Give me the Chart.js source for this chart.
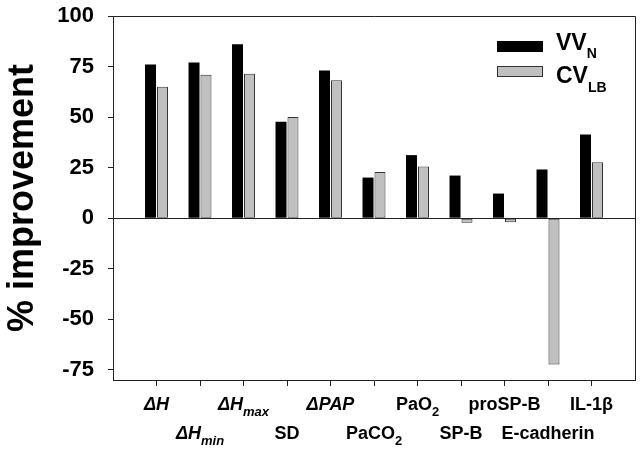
<!DOCTYPE html>
<html>
<head>
<meta charset="utf-8">
<script src="https://cdn.jsdelivr.net/npm/chart.js@4.4.0/dist/chart.umd.min.js"></script>
<style>
  body { margin: 0; background: #fff; }
  #wrap { width: 642px; height: 456px; }
</style>
</head>
<body>
<div id="wrap"><canvas id="chart" width="642" height="456"></canvas></div>
<script>
// *...* = italic, _{...} = subscript
const categories = ["*ΔH*", "*ΔH*_{*min*}", "*ΔH*_{*max*}", "SD", "*ΔPAP*", "PaCO_{2}", "PaO_{2}", "SP-B", "proSP-B", "E-cadherin", "IL-1β"]
const vvN = [76, 77, 86, 47.7, 73, 20.1, 31.2, 21.1, 12.2, 24.1, 41.4]
const cvLB = [65, 71, 71.4, 50, 68.2, 22.9, 25.6, -2.2, -2, -72.3, 27.7]
const seriesNames = ["VV_{N}", "CV_{LB}"]
const yTicks = [100, 75, 50, 25, 0, -25, -50, -75]

const FONT = "'Liberation Sans', Arial, sans-serif"

function parseRich(s) {
	const segs = []
	let italic = false, buf = '', i = 0
	const push = (sub) => {
		if (buf) segs.push({ t: buf, it: italic, sub })
		buf = ''
	}
	while (i < s.length) {
		const c = s[i]
		if (c === '*') {
			push(false)
			italic = !italic
			i++
		} else if (c === '_' && s[i + 1] === '{') {
			push(false)
			const j = s.indexOf('}', i)
			const inner = s.slice(i + 2, j)
			const wasItalic = italic
			italic = inner.startsWith('*') || wasItalic
			buf = inner.replace(/\*/g, '')
			push(true)
			italic = wasItalic
			i = j + 1
		} else {
			buf += c
			i++
		}
	}
	push(false)
	return segs
}

function drawRich(ctx, text, x, y, size, subSize, subShift, align) {
	const segs = parseRich(text)
	const fontOf = s => `${s.it ? 'italic ' : ''}bold ${s.sub ? subSize : size}px ${FONT}`
	let total = 0
	segs.forEach(s => {
		ctx.font = fontOf(s)
		s.w = ctx.measureText(s.t).width
		total += s.w
	})
	let cx = align === 'center' ? x - total / 2 : x
	ctx.textAlign = 'left'
	ctx.textBaseline = 'alphabetic'
	segs.forEach(s => {
		ctx.font = fontOf(s)
		ctx.fillText(s.t, cx, s.sub ? y + subShift : y)
		cx += s.w
	})
}

const decorPlugin = {
	id: 'decor',
	afterDraw(chart) {
		const ctx = chart.ctx
		const area = chart.chartArea
		const xs = chart.scales.x
		ctx.save()
		// frame top and right
		ctx.strokeStyle = '#222'
		ctx.lineWidth = 1
		ctx.beginPath()
		ctx.moveTo(area.left, area.top + 0.5)
		ctx.lineTo(area.right + 0.5, area.top + 0.5)
		ctx.lineTo(area.right + 0.5, area.bottom)
		ctx.stroke()

		// category labels, staggered on two rows
		ctx.fillStyle = '#000'
		categories.forEach((c, i) => {
			const px = xs.getPixelForValue(i + 1)
			const py = i % 2 === 0 ? 410 : 439
			drawRich(ctx, c, px, py, 18, 13, 6, 'center')
		})

		// legend
		const boxes = [
			{ y: 41, fill: '#000', stroke: '#000', textY: 49.5 },
			{ y: 66, fill: '#c0c0c0', stroke: '#333', textY: 83 }
		]
		boxes.forEach((b, i) => {
			ctx.fillStyle = b.fill
			ctx.fillRect(497, b.y, 46, 11)
			ctx.strokeStyle = b.stroke
			ctx.strokeRect(497.5, b.y + 0.5, 45, 10)
			ctx.fillStyle = '#000'
			drawRich(ctx, seriesNames[i], 556, b.textY, 23, 14, 8.5, 'left')
		})
		ctx.restore()
	}
}

const ctx = document.getElementById('chart').getContext('2d')

new Chart(ctx, {
	type: 'bar',
	data: {
		datasets: [{
			label: 'VV N',
			data: vvN.map((v, i) => ({ x: i + 1, y: v })),
			backgroundColor: '#000',
			borderColor: '#000',
			borderWidth: 0,
		}, {
			label: 'CV LB',
			data: cvLB.map((v, i) => ({ x: i + 1, y: v })),
			backgroundColor: '#c0c0c0',
			borderColor: '#333',
			borderWidth: 1,
			borderSkipped: false,
		}],
	},
	options: {
		responsive: false,
		animation: false,
		devicePixelRatio: 1,
		categoryPercentage: 0.55,
		barPercentage: 0.92,
		layout: {
			padding: { top: 16, right: 7, left: 0, bottom: 0 }
		},
		plugins: {
			legend: { display: false },
			tooltip: { enabled: false },
		},
		scales: {
			x: {
				type: 'linear',
				min: 0,
				max: 12,
				offset: false,
				afterBuildTicks: scale => {
					scale.ticks = categories.map((c, i) => ({ value: i + 1 }))
				},
				afterFit: scale => {
					scale.height = 76
					scale.paddingLeft = 0
					scale.paddingRight = 0
				},
				ticks: { display: false },
				grid: {
					offset: false,
					drawOnChartArea: false,
					tickLength: 6,
					tickColor: '#222',
				},
				border: { color: '#222', width: 1 },
			},
			y: {
				min: -80,
				max: 100,
				afterBuildTicks: scale => {
					scale.ticks = yTicks.map(v => ({ value: v }))
				},
				afterFit: scale => {
					scale.width = 113
					scale.paddingTop = 0
					scale.paddingBottom = 0
				},
				ticks: {
					color: '#000',
					padding: 14,
					font: { family: FONT, size: 22, weight: 'bold' },
				},
				grid: {
					color: c => c.tick && c.tick.value === 0 ? '#222' : 'rgba(0,0,0,0)',
					tickColor: '#222',
					tickLength: 5,
				},
				border: { color: '#222', width: 1 },
				title: {
					display: true,
					text: '% improvement',
					color: '#000',
					font: { family: FONT, size: 36, weight: 'bold' },
					padding: { top: 1, bottom: 0 },
				},
			},
		},
	},
	plugins: [decorPlugin],
});
</script>
</body>
</html>
